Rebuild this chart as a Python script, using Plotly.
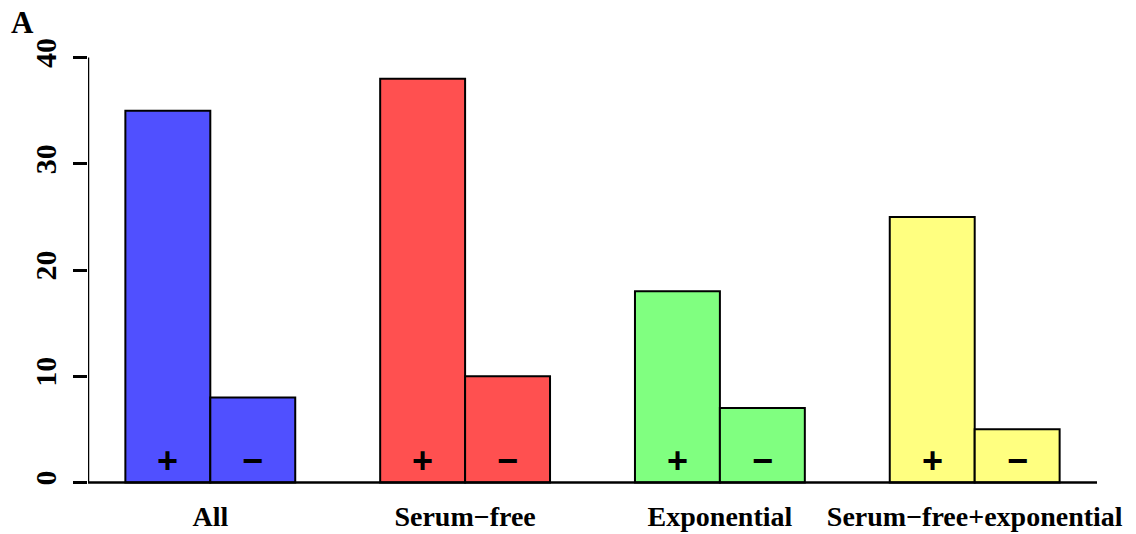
import plotly.graph_objects as go

categories = ["All", "Serum−free", "Exponential", "Serum−free+exponential"]
plus_vals = [35, 38, 18, 25]
minus_vals = [8, 10, 7, 5]
colors = ["#5050FF", "#FF5050", "#80FF80", "#FFFF80"]
y_ticks = [0, 10, 20, 30, 40]
signs = ["+", "−"]

xs, ys, cs, txt = [], [], [], []
for i, cat in enumerate(categories):
    start = 1 + 3 * i
    xs += [start + 0.5, start + 1.5]
    ys += [plus_vals[i], minus_vals[i]]
    cs += [colors[i], colors[i]]
    txt += signs
group_centers = [2 + 3 * i for i in range(len(categories))]

fig = go.Figure()
fig.add_trace(go.Bar(
    x=xs, y=ys, width=1,
    marker=dict(color=cs, line=dict(color="black", width=2)),
    showlegend=False, hoverinfo="skip",
))

for x, s in zip(xs, txt):
    fig.add_annotation(x=x, y=0, xref="x", yref="y", text="<b>" + s + "</b>",
                       showarrow=False, yanchor="middle", yshift=22,
                       font=dict(family="Liberation Sans", size=36, color="black"))

x0, x1 = 0.56, 12.44
fig.add_shape(type="line", xref="x", yref="y", x0=x0, x1=x0, y0=0, y1=40,
              line=dict(color="black", width=2.5))
fig.add_shape(type="line", xref="x", yref="y", x0=x0, x1=x1, y0=0, y1=0,
              line=dict(color="black", width=2.5))

fig.add_annotation(x=-0.065, y=1.055, xref="paper", yref="paper", text="<b>A</b>",
                   showarrow=False, xanchor="center", yanchor="middle",
                   font=dict(family="Liberation Serif", size=31, color="black"))

fig.update_layout(
    width=1136, height=534,
    margin=dict(l=88, r=39, t=47, b=41),
    plot_bgcolor="white", paper_bgcolor="white",
    xaxis=dict(range=[x0, x1], showgrid=False, zeroline=False, showline=False,
               automargin=False,
               tickvals=group_centers, ticktext=["<b>" + c + "</b>" for c in categories],
               ticks="", ticklabelstandoff=4,
               tickfont=dict(family="Liberation Serif", size=28, color="black")),
    yaxis=dict(range=[-1, 41], showgrid=False, zeroline=False, showline=False,
               automargin=False,
               tickvals=y_ticks, ticktext=["<b>%d</b>" % v for v in y_ticks],
               ticks="outside", ticklen=14, tickwidth=2.5, tickcolor="black",
               tickangle=-90, ticklabelstandoff=5,
               tickfont=dict(family="Liberation Serif", size=30, color="black")),
)

fig.write_html("out.html", config={"displayModeBar": False},
               post_script="document.body.style.margin='0';document.body.style.overflow='hidden';")
